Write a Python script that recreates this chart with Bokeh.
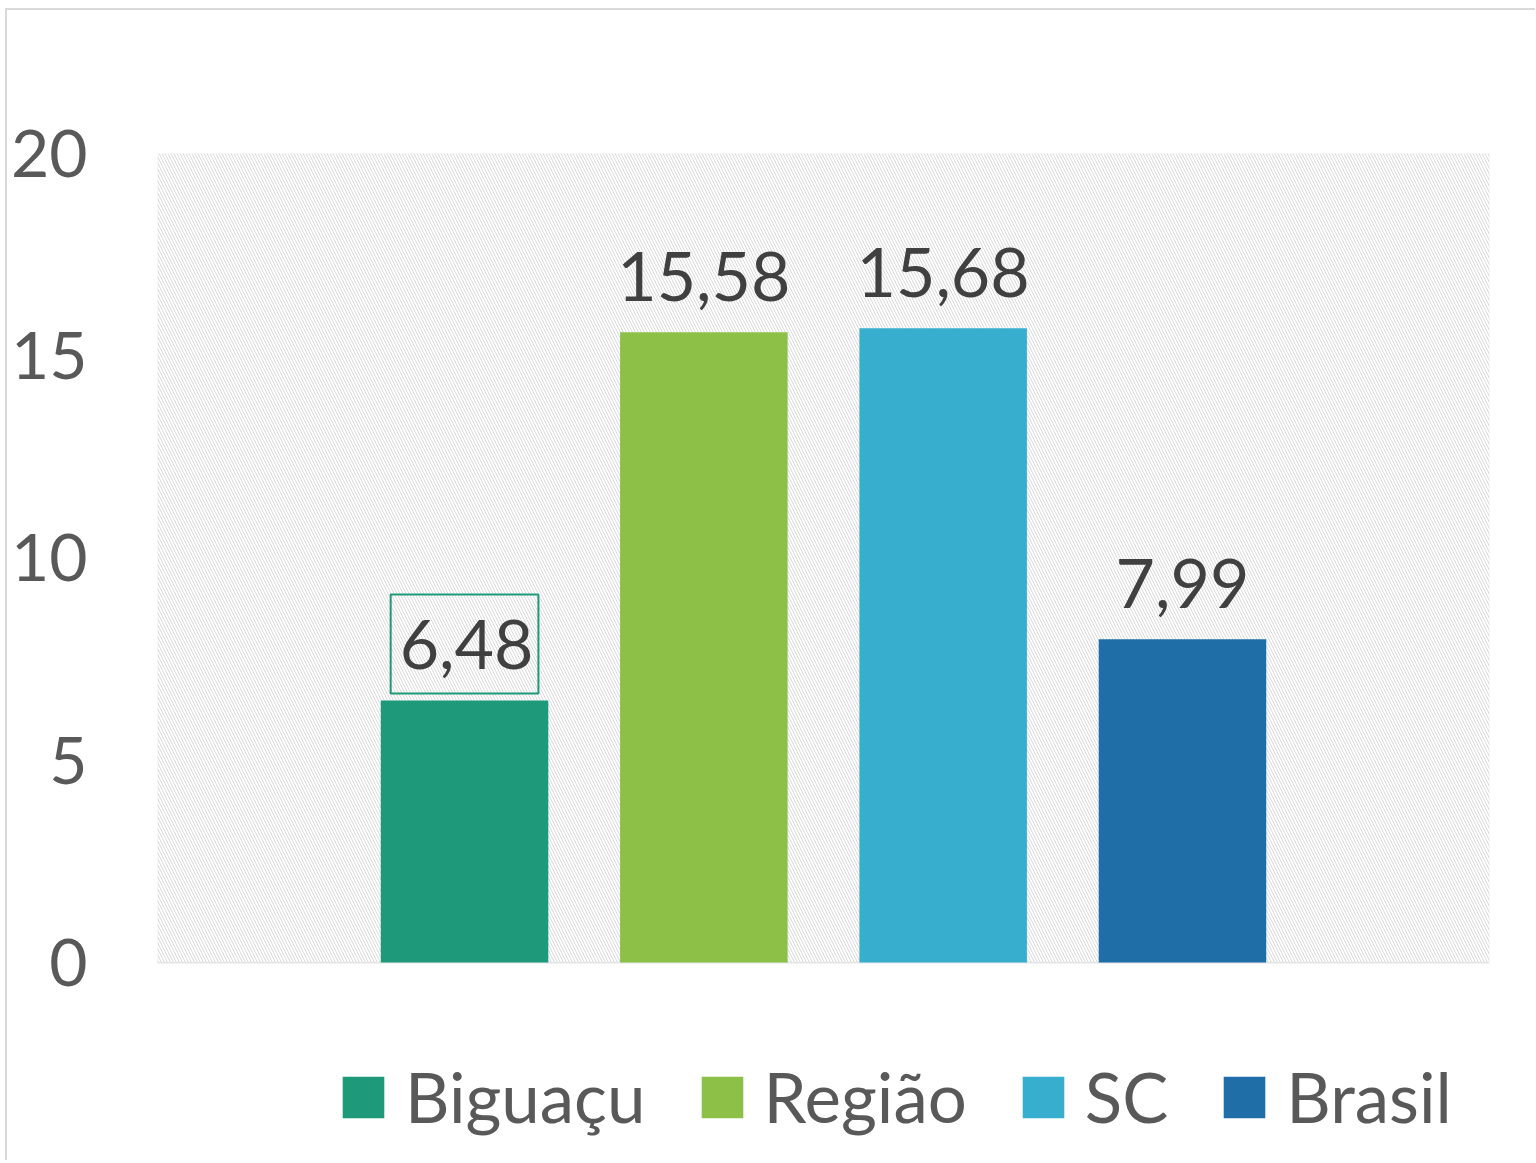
from bokeh.plotting import figure
from bokeh.models import (ColumnDataSource, Range1d, FixedTicker, Legend, LegendItem,
                          Label, LabelSet, BoxAnnotation)
from bokeh.core.properties import value
from bokeh.embed import file_html
from bokeh.resources import INLINE

categories = ["Biguaçu", "Região", "SC", "Brasil"]
values = [6.48, 15.58, 15.68, 7.99]
labels = ["6,48", "15,58", "15,68", "7,99"]
colors = ["#1e9a7a", "#8cc047", "#37aecd", "#1f6ea8"]
yticks = [0, 5, 10, 15, 20]

FONT = "Lato"
Y_MIN, Y_MAX = 0, 20
X_LO, X_HI = -1.283, 4.283
# the frame continues below zero so that the legend can sit inside it
Y_LOW_EXT = -4.895

p = figure(frame_width=1332, frame_height=1007, output_backend="svg", toolbar_location=None,
           x_range=Range1d(X_LO, X_HI), y_range=Range1d(Y_LOW_EXT, Y_MAX),
           min_border_left=150, min_border_top=143,
           min_border_right=46, min_border_bottom=0)
p.styles = {"border-left": "2px solid #d9d9d9", "border-top": "2px solid #d9d9d9",
            "margin-left": "5px", "margin-top": "8px"}

p.outline_line_color = None
p.background_fill_color = "white"
p.border_fill_color = "white"

area = BoxAnnotation(left=X_LO, right=X_HI, bottom=Y_MIN, top=Y_MAX,
                     fill_color="white", fill_alpha=1.0,
                     line_color="#d9d9d9", line_width=2,
                     hatch_pattern="\\", hatch_color="#d9d9d9", hatch_scale=6,
                     hatch_weight=1, level="underlay")
p.add_layout(area)

p.xaxis.visible = False
p.xgrid.grid_line_color = None
p.ygrid.grid_line_color = "#d9d9d9"
p.ygrid.grid_line_width = 1.5
p.ygrid.level = "underlay"

p.yaxis.ticker = FixedTicker(ticks=yticks)
p.yaxis.axis_line_color = None
p.yaxis.major_tick_line_color = None
p.yaxis.minor_tick_line_color = None
p.yaxis.major_tick_out = 0
p.yaxis.major_tick_in = 0
p.yaxis.axis_label_standoff = 0
p.yaxis.major_label_text_font = FONT
p.yaxis.major_label_text_font_size = "66px"
p.yaxis.major_label_text_color = "#595959"
p.yaxis.major_label_standoff = 70

xs = list(range(len(categories)))

items = []
for i in xs:
    r = p.vbar(x=[xs[i]], top=[values[i]], width=0.70, bottom=0,
               fill_color=colors[i], line_color=None)
    items.append(LegendItem(label=categories[i], renderers=[r]))

lsrc = ColumnDataSource(dict(x=xs[1:], y=values[1:], t=labels[1:]))
p.add_layout(LabelSet(x="x", y="y", text="t", source=lsrc, text_align="center",
                      text_baseline="alphabetic", y_offset=31, text_font=value(FONT),
                      text_font_size=value("68px"), text_color=value("#404040")))

first = Label(x=xs[0], y=values[0], text=labels[0], text_align="center",
              text_baseline="bottom", y_offset=7, text_font=FONT,
              text_font_size="68px", text_color="#404040",
              border_line_color=colors[0], border_line_width=2,
              padding=dict(left=9, right=5, top=26, bottom=24))
p.add_layout(first)

legend = Legend(items=items, orientation="horizontal", location=(180, 22),
                glyph_width=52, glyph_height=52, label_standoff=16, spacing=50,
                label_text_font=FONT, label_text_font_size="69px",
                label_text_color="#595959", border_line_color=None,
                background_fill_alpha=0, padding=0, margin=0)
p.add_layout(legend, "center")

open("out.html", "w").write(file_html(p, INLINE))
